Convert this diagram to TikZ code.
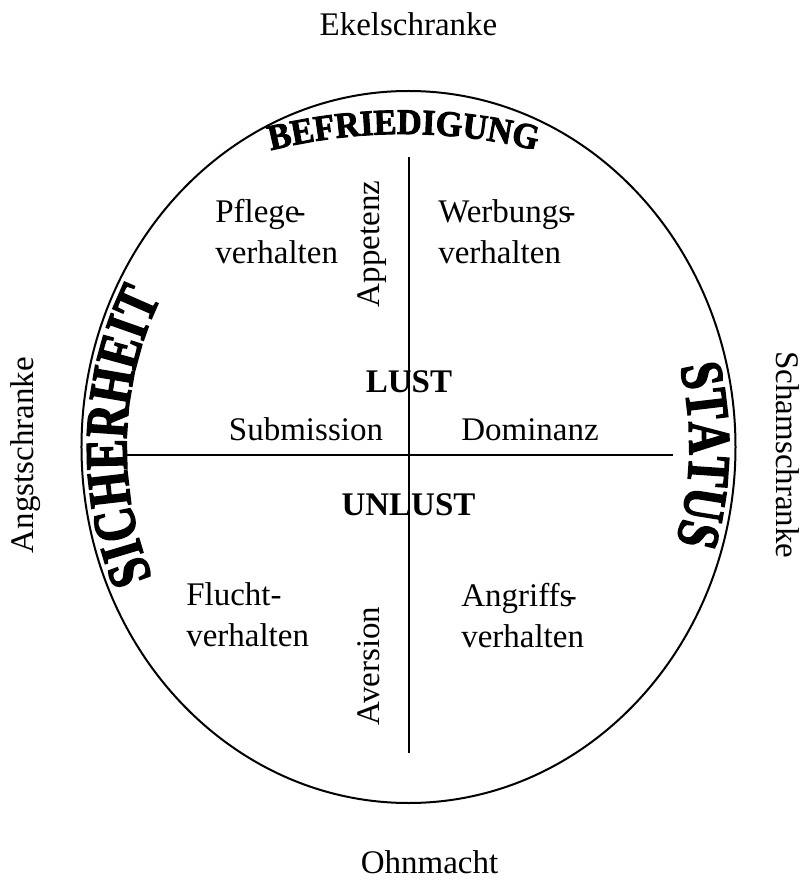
\documentclass[tikz,border=0pt]{standalone}
\usepackage{fontspec}
\setmainfont{Liberation Serif}
\newfontfamily\arcfont[FakeStretch=0.76,FakeBold=2.5]{Liberation Serif}
\newfontfamily\topfont[FakeStretch=0.95,FakeBold=2.5]{Liberation Serif}
\usetikzlibrary{decorations.text}

\begin{document}
\begin{tikzpicture}[
  x=0.75pt, y=0.75pt,
  every node/.style={inner sep=0pt, font=\fontsize{24.75pt}{30.75pt}\selectfont},
  axis/.style={line width=1.5pt},
  quad/.style={align=left, anchor=north west},
  side/.style={anchor=base},
  bold/.style={anchor=base, font=\fontsize{24.75pt}{30.75pt}\selectfont\bfseries},
  arctext/.style={decorate, decoration={text along path, text align=center,
                  text={|\arcfont\bfseries\fontsize{45pt}{45pt}\selectfont|#1}}},
]
\useasboundingbox (-408.5,-434) rectangle (394.5,447);

% outer ring and axes
\coordinate (c) at (0,0);
\draw[axis] (c) ellipse [x radius=327, y radius=356];
\coordinate (n) at (0,290);
\coordinate (s) at (0,-306);
\coordinate (w) at (-283.5,-8);
\coordinate (e) at (264.5,-8);
\draw[axis] (n) -- (s);
\draw[axis] (w) -- (e);

% barriers outside
\node[side] (ekel) at (0,411) {Ekelschranke};
\node[side] (ohnmacht) at (21,-426) {Ohnmacht};
\node[side, rotate=90] (angst) at (-374.5,-8) {Angstschranke};
\node[side, rotate=-90] (scham) at (367.5,-8) {Schamschranke};

% curved labels
\path[decorate, decoration={text along path, text align=center,
      text={|\topfont\bfseries\fontsize{27pt}{27pt}\selectfont|BEFRIEDIGUNG}}]
  (-5,-231) ++(110:544) arc [start angle=110, end angle=70, radius=544];
\path[arctext=SICHERHEIT]
  (c) ++(218:282 and 312) arc [start angle=218, end angle=138, x radius=282, y radius=312];
\path[arctext=STATUS]
  (c) ++(40:281 and 310) arc [start angle=40, end angle=-43, x radius=281, y radius=310];

% quadrants
\node[quad] (pflege) at (-193.5,247.5) {Pflege\kern-.15em-\\verhalten};
\node[quad] (werbung) at (29.5,247.5) {Werbungs\kern-.2em-\\verhalten};
\node[quad] (flucht) at (-222.5,-135.5) {Flucht-\\verhalten};
\node[quad] (angriff) at (52.5,-135.5) {Angriffs\kern-.2em-\\verhalten};
\node[side, rotate=90] (appetenz) at (-29.5,203) {Appetenz};
\node[side, rotate=90] (aversion) at (-29.5,-219) {Aversion};

% centre
\node[bold] (lust) at (0.5,54) {LUST};
\node[bold] (unlust) at (0,-68) {UNLUST};
\node[side] (submission) at (-102.5,7) {Submission};
\node[side] (dominanz) at (121.5,7) {Dominanz};
\end{tikzpicture}
\end{document}
